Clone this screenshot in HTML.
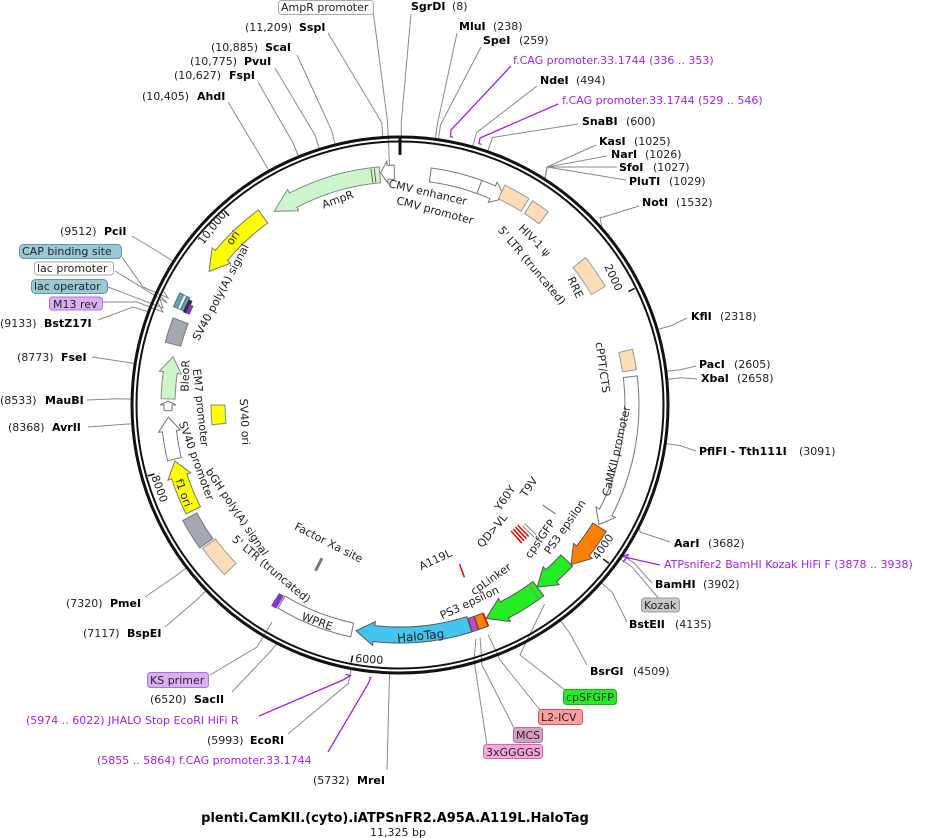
<!DOCTYPE html>
<html><head><meta charset="utf-8"><style>
html,body{margin:0;padding:0;background:#fff;}
svg{display:block;}
text{font-family:"DejaVu Sans","Liberation Sans",sans-serif;font-size:11px;fill:#222;}
.b{font-weight:bold;fill:#000;}
.p{fill:#a020f0;}
.fl{font-size:11px;fill:#111;}
</style></head><body>
<svg id="s" width="940" height="838" viewBox="0 0 940 838" xmlns="http://www.w3.org/2000/svg">
<g id="lines" fill="none" stroke="#8a8a8a" stroke-width="1"></g>
<circle cx="400" cy="405" r="268" fill="none" stroke="#111" stroke-width="3"/>
<circle cx="400" cy="405" r="263.5" fill="none" stroke="#111" stroke-width="2"/>
<g id="feat"></g>

<rect x="278.5" y="0.5" width="95" height="14" rx="3" fill="#fff" stroke="#aaa"/>
<text x="281" y="11">AmpR promoter</text>
<rect x="19.5" y="244.5" width="102" height="14" rx="4" fill="#9cc8d4" stroke="#5a9aae"/>
<text x="22" y="255">CAP binding site</text>
<rect x="34.5" y="262" width="79" height="13" rx="3" fill="#fff" stroke="#aaa"/>
<text x="37" y="272">lac promoter</text>
<rect x="31.5" y="279.5" width="76" height="14" rx="4" fill="#9cc8d4" stroke="#5a9aae"/>
<text x="34" y="290">lac operator</text>
<rect x="49.5" y="297" width="53" height="13" rx="3" fill="#dcb0f4" stroke="#b070e0"/>
<text x="53" y="308">M13 rev</text>
<rect x="641.5" y="598" width="38" height="14" rx="3" fill="#c8c8cc" stroke="#999"/>
<text x="644" y="609">Kozak</text>
<rect x="563.5" y="689.5" width="53" height="15" rx="3" fill="#22ee22" stroke="#22aa22"/>
<text x="566" y="701">cpSFGFP</text>
<rect x="538.5" y="709.5" width="44" height="15" rx="3" fill="#f8a0a0" stroke="#e05050"/>
<text x="541" y="721">L2-ICV</text>
<rect x="513.5" y="727.5" width="29" height="15" rx="3" fill="#d8a0c8" stroke="#b07090"/>
<text x="516" y="739">MCS</text>
<rect x="483.5" y="744.5" width="59" height="14" rx="3" fill="#f4a8dc" stroke="#e060b0"/>
<text x="486" y="756">3xGGGGS</text>
<rect x="147.5" y="672.5" width="61" height="15" rx="3" fill="#dcb0f4" stroke="#b070e0"/>
<text x="150" y="684">KS primer</text>

<text x="245" y="31">(11,209)</text><text class="b" x="299" y="31">SspI</text>
<text x="211" y="51">(10,885)</text><text class="b" x="265" y="51">ScaI</text>
<text x="190" y="65">(10,775)</text><text class="b" x="244" y="65">PvuI</text>
<text x="174" y="79">(10,627)</text><text class="b" x="229" y="79">FspI</text>
<text x="142" y="100">(10,405)</text><text class="b" x="197" y="100">AhdI</text>
<text x="60" y="235">(9512)</text><text class="b" x="104" y="235">PciI</text>
<text x="0" y="327">(9133)</text><text class="b" x="44" y="327">BstZ17I</text>
<text x="17" y="361">(8773)</text><text class="b" x="61" y="361">FseI</text>
<text x="0" y="404">(8533)</text><text class="b" x="45" y="404">MauBI</text>
<text x="8" y="431">(8368)</text><text class="b" x="52" y="431">AvrII</text>
<text x="66" y="607">(7320)</text><text class="b" x="110" y="607">PmeI</text>
<text x="83" y="637">(7117)</text><text class="b" x="127" y="637">BspEI</text>
<text x="150" y="703">(6520)</text><text class="b" x="194" y="703">SacII</text>
<text class="p" x="26" y="724">(5974 .. 6022)  JHALO Stop EcoRI HiFi R</text>
<text x="207" y="744">(5993)</text><text class="b" x="250" y="744">EcoRI</text>
<text class="p" x="97" y="764">(5855 .. 5864)  f.CAG promoter.33.1744</text>
<text x="313" y="784">(5732)</text><text class="b" x="357" y="784">MreI</text>

<text class="b" x="411" y="10">SgrDI</text><text x="452" y="10">(8)</text>
<text class="b" x="459" y="30">MluI</text><text x="493" y="30">(238)</text>
<text class="b" x="483" y="44">SpeI</text><text x="519" y="44">(259)</text>
<text class="p" x="513" y="64">f.CAG promoter.33.1744  (336 .. 353)</text>
<text class="b" x="540" y="84">NdeI</text><text x="576" y="84">(494)</text>
<text class="p" x="562" y="104">f.CAG promoter.33.1744  (529 .. 546)</text>
<text class="b" x="582" y="125">SnaBI</text><text x="626" y="125">(600)</text>
<text class="b" x="599" y="145">KasI</text><text x="634" y="145">(1025)</text>
<text class="b" x="611" y="158">NarI</text><text x="645" y="158">(1026)</text>
<text class="b" x="619" y="171">SfoI</text><text x="653" y="171">(1027)</text>
<text class="b" x="629" y="185">PluTI</text><text x="669" y="185">(1029)</text>
<text class="b" x="642" y="206">NotI</text><text x="676" y="206">(1532)</text>
<text class="b" x="691" y="320">KflI</text><text x="720" y="320">(2318)</text>
<text class="b" x="699" y="368">PacI</text><text x="734" y="368">(2605)</text>
<text class="b" x="701" y="382">XbaI</text><text x="737" y="382">(2658)</text>
<text class="b" x="699" y="455">PflFI - Tth111I</text><text x="799" y="455">(3091)</text>
<text class="b" x="674" y="547">AarI</text><text x="708" y="547">(3682)</text>
<text class="p" x="664" y="568">ATPsnifer2 BamHI Kozak HiFi F  (3878 .. 3938)</text>
<text class="b" x="655" y="588">BamHI</text><text x="703" y="588">(3902)</text>
<text class="b" x="629" y="628">BstEII</text><text x="675" y="628">(4135)</text>
<text class="b" x="590" y="675">BsrGI</text><text x="633" y="675">(4509)</text>

<text class="b" x="395" y="822" text-anchor="middle" style="font-size:13px">plenti.CamKII.(cyto).iATPSnFR2.A95A.A119L.HaloTag</text>
<text x="398" y="836" text-anchor="middle">11,325 bp</text>

<g class="fl" text-anchor="middle">
<text transform="translate(339,203) rotate(-20)">AmpR</text>
<text transform="translate(427,196) rotate(13)">CMV enhancer</text>
<text transform="translate(434,214) rotate(15)">CMV promoter</text>
<text transform="translate(532,243) rotate(45)">HIV-1 ψ</text>
<text transform="translate(529,268) rotate(50)">5' LTR (truncated)</text>
<text transform="translate(572,289) rotate(65)">RRE</text>
<text transform="translate(610,279) rotate(65)">2000</text>
<text transform="translate(599,368) rotate(82)">cPPT/CTS</text>
<text transform="translate(620,452) rotate(-77)">CaMKII promoter</text>
<text transform="translate(568,529) rotate(-55)">PS3 epsilon</text>
<text transform="translate(543,541) rotate(-55)">cpsfGFP</text>
<text transform="translate(532,489) rotate(-55)">T9V</text>
<text transform="translate(508,500) rotate(-55)">Y60Y</text>
<text transform="translate(495,533) rotate(-50)">QD&gt;VL</text>
<text transform="translate(437,563) rotate(-25)">A119L</text>
<text transform="translate(493,582) rotate(-35)">cpLinker</text>
<text transform="translate(471,606) rotate(-25)">PS3 epsilon</text>
<text transform="translate(421,640) rotate(-6)" style="font-size:12px">HaloTag</text>
<text transform="translate(316,625) rotate(20)">WPRE</text>
<text transform="translate(269,572) rotate(40)">5' LTR (truncated)</text>
<text transform="translate(234,514) rotate(56)">bGH poly(A) signal</text>
<text transform="translate(327,546) rotate(27)">Factor Xa site</text>
<text transform="translate(193,462) rotate(70)">SV40 promoter</text>
<text transform="translate(197,408) rotate(84)">EM7 promoter</text>
<text transform="translate(189,376) rotate(-88)">BleoR</text>
<text transform="translate(241,422) rotate(87)">SV40 ori</text>
<text transform="translate(156,490) rotate(70)">8000</text>
<text transform="translate(180,494) rotate(70)">f1 ori</text>
<text transform="translate(224,294) rotate(-62)">SV40 poly(A) signal</text>
<text transform="translate(236,240) rotate(-55)">ori</text>
<text transform="translate(215,230) rotate(-52)">10,000</text>
<text transform="translate(606,549) rotate(-55)">4000</text>
<text transform="translate(369,663) rotate(4)">6000</text>
</g>
</svg>
<script>
(function(){
var NS="http://www.w3.org/2000/svg",cx=400,cy=405;
function P(a,r){var t=a*Math.PI/180;return [cx+r*Math.sin(t),cy-r*Math.cos(t)];}
function f(p){return p[0].toFixed(1)+","+p[1].toFixed(1);}
function bp(b){return b/11325*360;}
function el(par,tag,at){var e=document.createElementNS(NS,tag);for(var k in at)e.setAttribute(k,at[k]);document.getElementById(par).appendChild(e);return e;}
function arc(r,a,sw){return " A"+r+","+r+" 0 0,"+sw+" ";}
function shape(a1,a2,rc,w,dir,fill,stroke,head){
 var hw=w/2,d;
 if(!dir){d="M"+f(P(a1,rc+hw))+arc(rc+hw,0,1)+f(P(a2,rc+hw))+" L"+f(P(a2,rc-hw))+arc(rc-hw,0,0)+f(P(a1,rc-hw))+"Z";}
 else{var hd=(head||16)/rc*180/Math.PI,wing=4;
  if(dir==1){var b=a2-hd;if(b<a1)b=a1;
   d="M"+f(P(a1,rc+hw))+arc(rc+hw,0,1)+f(P(b,rc+hw))+" L"+f(P(b,rc+hw+wing))+" L"+f(P(a2,rc))+" L"+f(P(b,rc-hw-wing))+" L"+f(P(b,rc-hw))+arc(rc-hw,0,0)+f(P(a1,rc-hw))+"Z";}
  else{var b=a1+hd;if(b>a2)b=a2;
   d="M"+f(P(a2,rc+hw))+arc(rc+hw,0,0)+f(P(b,rc+hw))+" L"+f(P(b,rc+hw+wing))+" L"+f(P(a1,rc))+" L"+f(P(b,rc-hw-wing))+" L"+f(P(b,rc-hw))+arc(rc-hw,0,1)+f(P(a2,rc-hw))+"Z";}}
 el("feat","path",{d:d,fill:fill,stroke:stroke||"#777","stroke-width":1});
}
function rline(a,r1,r2,c,w){el("feat","line",{x1:P(a,r1)[0],y1:P(a,r1)[1],x2:P(a,r2)[0],y2:P(a,r2)[1],stroke:c,"stroke-width":w});}
var G="#ccf5cc",Y="#ffff00",PE="#fddcb8",GR="#a4a8b0";
shape(-4.8,-1.4,233,14,-1,"#fff","#777",7);
shape(-33,-5,231,16,-1,G,"#888",22);
rline(-6.2,224,238,"#666",1);rline(-7,224,238,"#666",1);
shape(7.5,27,232,14,1,"#fff","#777",14);
rline(20,225,239,"#777",1);
shape(25.5,32,236,15,0,PE,"#999");
shape(33,37.5,236,15,0,PE,"#999");
shape(51.5,60,229,16,0,PE,"#999");
shape(76.5,81.5,232,14,0,PE,"#999");
shape(83,121,232,14,1,"#fff","#777",14);
shape(121.5,133,234,16,1,"#ff8000","#555",18);
shape(133,143,228,16,1,"#22ee22","#555",18);
shape(143,158,230,18,1,"#22ee22","#555",20);
rline(144.5,220,240,"#888",1);
shape(158.3,160.6,231,14,0,"#ff8000","#555");
rline(158.2,224,238,"#e00",1.5);
shape(160.8,162.3,231,14,0,"#cc44cc","#555");
shape(162.5,191,230,16,1,"#44c4ee","#555",18);
shape(192,211,230,14,0,"#fff","#777");
shape(211.4,212.6,231,14,0,"#8833cc","#8833cc");
shape(226,234,236,16,0,PE,"#999");
shape(234.5,242,238,16,0,GR,"#777");
shape(243,256,232,16,1,Y,"#777",16);
shape(256.5,267,232,14,1,"#fff","#777",14);
shape(268.6,271,232,8,1,"#fff","#777",4);
shape(271.5,282,232,14,1,G,"#888",16);
shape(285,291,235,16,0,GR,"#777");
shape(293.5,297,245,4,0,"#5fa8b8","#3a7a8a");
shape(293.5,297,241,3,0,"#fff","#888");
shape(293.5,297,237.5,3,0,"#5fa8b8","#3a7a8a");
shape(293.3,296.5,234,3,0,"#333","#333");
shape(293.3,295.5,231,3,0,"#8833cc","#8833cc");
shape(305,324,233,16,-1,Y,"#777",20);
shape(264,270,182,14,0,Y,"#888");
rline(207,172,186,"#777",3);
rline(159.5,170,184,"#e00",1.5);
[135.6,136.6,137.6,138.6].forEach(function(a){rline(a,168,184,"#e00",1.5);});
rline(133.6,172,188,"#888",1);rline(134.6,172,188,"#888",1);
rline(125,174,190,"#666",1);
[2000,4000,6000,8000,10000].forEach(function(b){rline(bp(b),255,262,"#111",1.5);});
rline(0,250,268,"#111",3);
function L(pts){el("lines","polyline",{points:pts.map(f).join(" ")});}
function Lb(b,pts,r){var a=bp(b);L(pts.concat([P(a,283),P(a,r||269)]));}
function Ld(b,pts,r){L(pts.concat([P(bp(b),r||269)]));}
Lb(11246,[[373,10]],240);
Lb(11209,[[328,33]]);
Lb(10885,[[297,55]]);Lb(10775,[[275,68]]);Lb(10627,[[258,82]]);Lb(10405,[[228,102]]);
Lb(9512,[[132,236]]);
L([[122,257],[143,287],[168,298],P(bp(9300),262)]);
L([[115,271],[167,303],P(bp(9260),262)]);
L([[108,287],[163,308],P(bp(9240),262)]);
L([[102,302],[137,302],[163,312],P(bp(9210),262)]);
Ld(9133,[[98,320],[133,307]]);
Lb(8773,[[92,357]]);Lb(8533,[[87,400]]);Lb(8368,[[88,427]]);
Lb(7320,[[145,597]]);Lb(7117,[[165,627]]);
L([[210,675],[257,647],[272,622]]);
Ld(6520,[[232,692],[269,653]]);
Lb(5993,[[288,734]],269);
Lb(5732,[[387,770]]);
Lb(8,[[411,14]]);Lb(238,[[457,33]]);Lb(259,[[481,47]]);Lb(494,[[537,86]]);Lb(600,[[578,124]]);
[[596,145],[607,156],[617,167],[626,180]].forEach(function(p){L([p,[547,167],P(bp(1026),269)]);});
Ld(1532,[[639,206],[600,218]]);
Lb(2318,[[687,318]]);Lb(2605,[[696,366]]);Lb(2658,[[697,379]]);Lb(3091,[[696,451]]);
Ld(3682,[[670,542],[640,532]]);
Lb(3902,[[652,583]]);
Lb(3930,[[660,600]],266);
Lb(4135,[[627,622]]);
Lb(4509,[[587,665]],266);
L([[565,690],[520,655],P(144,246)]);
L([[540,710],[500,660],P(159,246)]);
L([[514,728],[482,665],P(161,246)]);
L([[487,745],[474,660],P(162,246)]);
function PR(pts){el("lines","polyline",{points:pts.map(f).join(" "),stroke:"#a020f0","stroke-width":1.3});}
PR([[511,66],[451,130],P(bp(336),273),P(bp(353),273)]);
PR([[558,104],[480,138],P(bp(529),273),P(bp(546),273)]);
PR([[660,565],[620,556],P(bp(3878),273),P(bp(3938),273)]);
PR([[259,716],[343,680],P(bp(5990),275),P(bp(6022),275)]);
PR([[328,752],[368,684],P(bp(5855),274),P(bp(5864),274)]);
})();
</script>
</body></html>
